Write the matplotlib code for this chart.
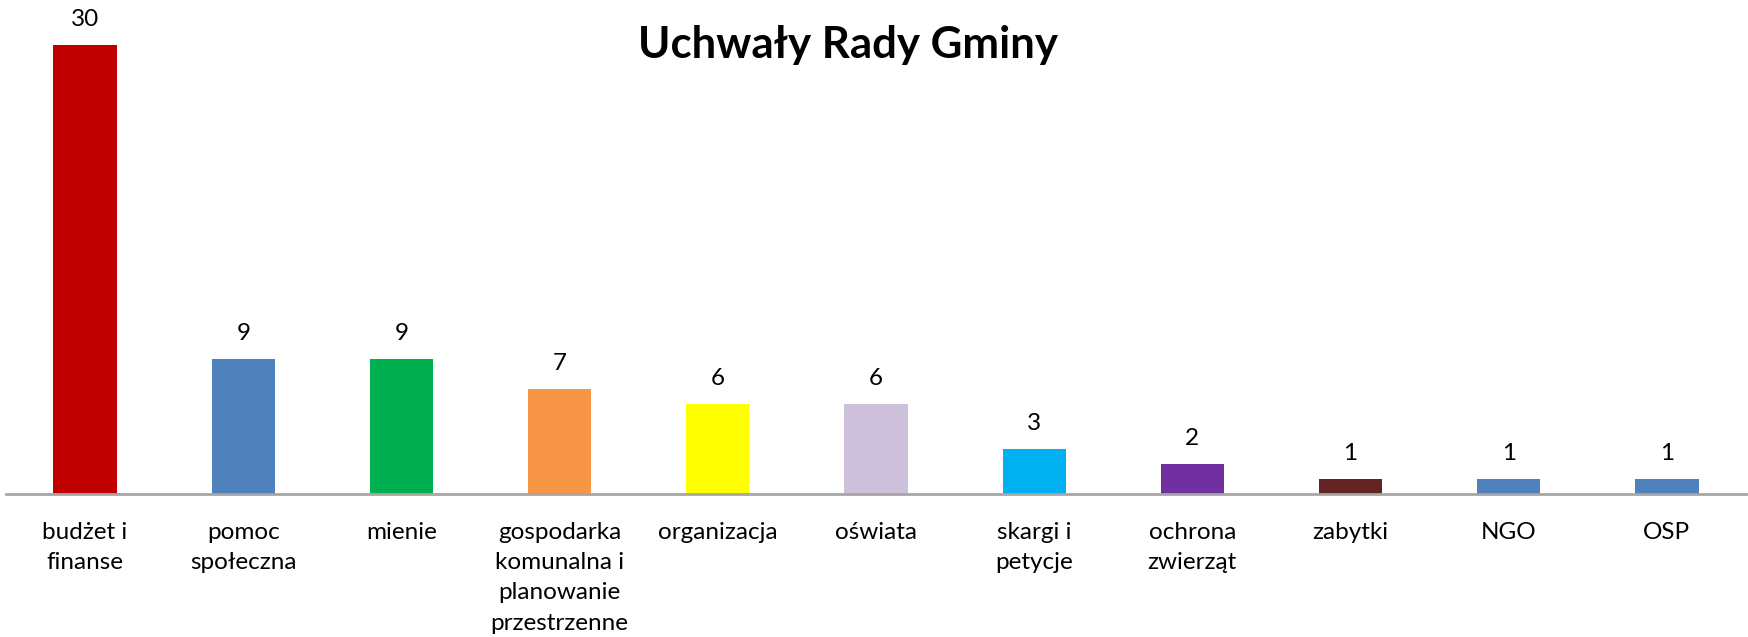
import matplotlib.pyplot as plt

# categories and counts
categories = ['budżet i\nfinanse', 'pomoc\nspołeczna', 'mienie',
              'gospodarka\nkomunalna i\nplanowanie\nprzestrzenne',
              'organizacja', 'oświata', 'skargi i\npetycje',
              'ochrona\nzwierząt', 'zabytki', 'NGO', 'OSP']
counts = [30, 9, 9, 7, 6, 6, 3, 2, 1, 1, 1]
colors = ['#C00000', '#4F81BD', '#00B050', '#F79646', '#FFFF00', '#CCC0DA',
          '#00B0F0', '#7030A0', '#632523', '#4F81BD', '#4F81BD']

plt.rcParams['font.family'] = ['Lato', 'DejaVu Sans']

fig = plt.figure(figsize=(17.49, 6.37), dpi=100)
ax = fig.add_axes([6 / 1749, 143 / 637, 1740 / 1749, 449 / 637])

x = range(len(categories))
bars = ax.bar(x, counts, width=0.4, color=colors)

for rect, v in zip(bars, counts):
    ax.annotate(str(v), (rect.get_x() + rect.get_width() / 2, v),
                xytext=(0, 11), textcoords='offset points',
                ha='center', va='bottom', fontsize=17.5, annotation_clip=False)

ax.set_xlim(-0.5, len(categories) - 0.5)
ax.set_ylim(0, 30)
ax.set_xticks(list(x))
ax.set_xticklabels(categories, fontsize=17.5, linespacing=1.55, va='top')
ax.tick_params(axis='x', length=0, pad=20)
ax.set_yticks([])

for s in ['top', 'right', 'left']:
    ax.spines[s].set_visible(False)
ax.spines['bottom'].set_color('#A6A6A6')
ax.spines['bottom'].set_linewidth(2)

fig.text(848 / 1749, 1 - 45 / 637, 'Uchwały Rady Gminy', ha='center',
         va='center', fontsize=31.5, fontweight='bold')

fig.savefig('out.png', dpi=100, facecolor='white')
